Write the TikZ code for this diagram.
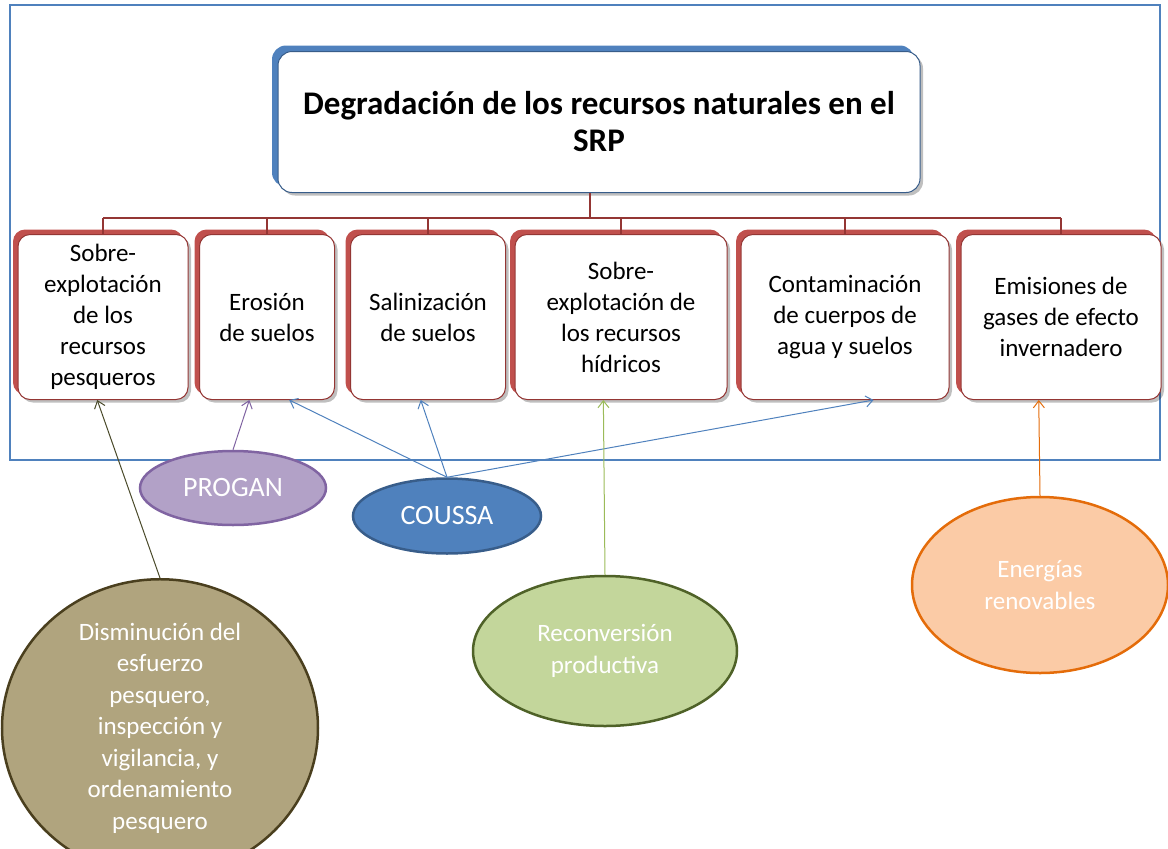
\documentclass[tikz,border=0pt]{standalone}
\usepackage{fontspec}
\setmainfont{Carlito}
\usetikzlibrary{shapes.geometric,shadows,arrows.meta}

\definecolor{boxred}{HTML}{C0504D}
\definecolor{linered}{HTML}{943634}
\definecolor{titleblue}{HTML}{4F81BD}
\definecolor{titleedge}{HTML}{385D8A}
\definecolor{proganfill}{HTML}{B2A1C7}
\definecolor{proganedge}{HTML}{8064A2}
\definecolor{coussaedge}{HTML}{385D8A}
\definecolor{pescafill}{HTML}{B0A47E}
\definecolor{pescaedge}{HTML}{4A3F1E}
\definecolor{pescaline}{HTML}{4A4A2A}
\definecolor{reconvfill}{HTML}{C3D69B}
\definecolor{reconvedge}{HTML}{4F6228}
\definecolor{reconvline}{HTML}{9BBB59}
\definecolor{energfill}{HTML}{FBCBA6}
\definecolor{energedge}{HTML}{E46C0A}

\tikzset{
  rama/.style={draw=linered, line width=1pt, rounded corners=12pt, fill=white,
    align=center, inner sep=0pt, minimum height=165pt,
    font=\fontsize{25}{31}\selectfont,
    drop shadow={shadow xshift=3pt, shadow yshift=-3pt, fill=black, opacity=.25},
    drop shadow={shadow xshift=-5pt, shadow yshift=5pt, fill=boxred, opacity=1}},
  programa/.style={ellipse, line width=2.5pt, inner sep=0pt, align=center,
    text=white, font=\fontsize{25}{31.5}\selectfont},
  flecha/.style={-{Straight Barb[length=7pt,width=11pt]}, line width=1pt}
}

\begin{document}
\begin{tikzpicture}[x=1pt, y=-1pt]
\useasboundingbox (0,0) rectangle (1168,849);

% frame
\draw[titleblue, line width=1.2pt] (10,5) rectangle (1160,460);

% title
\node[draw=titleedge, line width=1pt, rounded corners=14pt, fill=white,
  minimum width=642pt, minimum height=141pt, align=center, inner sep=0pt,
  font=\fontsize{33}{37}\selectfont\bfseries,
  drop shadow={shadow xshift=3pt, shadow yshift=-3pt, fill=black, opacity=.25},
  drop shadow={shadow xshift=-6pt, shadow yshift=6pt, fill=titleblue, opacity=1}]
  at (599,122) (title) {Degradación de los recursos naturales en el\\SRP};

% problemas
\node[rama, minimum width=170pt] at (103,317) (sobrepesca)
{Sobre-\\explotación\\de los\\recursos\\pesqueros};
\node[rama, minimum width=135pt] at (267,317) (erosion)
{Erosión\\de suelos};
\node[rama, minimum width=155pt] at (428,317) (salinizacion)
{Salinización\\de suelos};
\node[rama, minimum width=212pt] at (621,317) (hidricos)
{Sobre-\\explotación de\\los recursos\\hídricos};
\node[rama, minimum width=208pt] at (845,317) (contaminacion)
{Contaminación\\de cuerpos de\\agua y suelos};
\node[rama, minimum width=200pt] at (1061,317) (emisiones)
{Emisiones de\\gases de efecto\\invernadero};

% tree lines
\coordinate (bus) at (590,218);
\draw[linered, line width=2.5pt] (title.south -| bus) -- (bus);
\draw[linered, line width=2pt] (sobrepesca.north |- bus) -- (emisiones.north |- bus);
\foreach \n in {sobrepesca,erosion,salinizacion,hidricos,contaminacion,emisiones}
  \draw[linered, line width=1.5pt] (\n.north |- bus) -- (\n.north);

% programas
\node[programa, draw=proganedge, fill=proganfill, minimum width=186pt,
  minimum height=74pt, font=\fontsize{28}{33}\selectfont] at (233,488) (progan) {PROGAN};
\node[programa, draw=coussaedge, fill=titleblue, minimum width=188pt,
  minimum height=75pt, font=\fontsize{28}{33}\selectfont] at (447,516) (coussa) {COUSSA};
\node[programa, draw=pescaedge, fill=pescafill, minimum width=316pt,
  minimum height=280pt] at (160,728) (disminucion)
{Disminución del\\esfuerzo\\pesquero,\\inspección y\\vigilancia, y\\ordenamiento\\pesquero};
\node[programa, draw=reconvedge, fill=reconvfill, minimum width=264pt,
  minimum height=150pt] at (605,651) (reconversion)
{Reconversión\\productiva};
\node[programa, draw=energedge, fill=energfill, minimum width=256pt,
  minimum height=176pt] at (1040,585) (energias)
{Energías\\renovables};

% flechas
\draw[flecha, pescaline] (disminucion.north) -- (sobrepesca.266);
\draw[flecha, proganedge] (progan.north) -- (erosion.258);
\draw[flecha, titleblue] (coussa.north) -- (erosion.285);
\draw[flecha, titleblue] (coussa.north) -- (salinizacion.265);
\draw[flecha, titleblue] (coussa.north) -- (contaminacion.289);
\draw[flecha, reconvline] (reconversion.north) -- (hidricos.258);
\draw[flecha, energedge] (energias.north) -- (emisiones.255);

\end{tikzpicture}
\end{document}
